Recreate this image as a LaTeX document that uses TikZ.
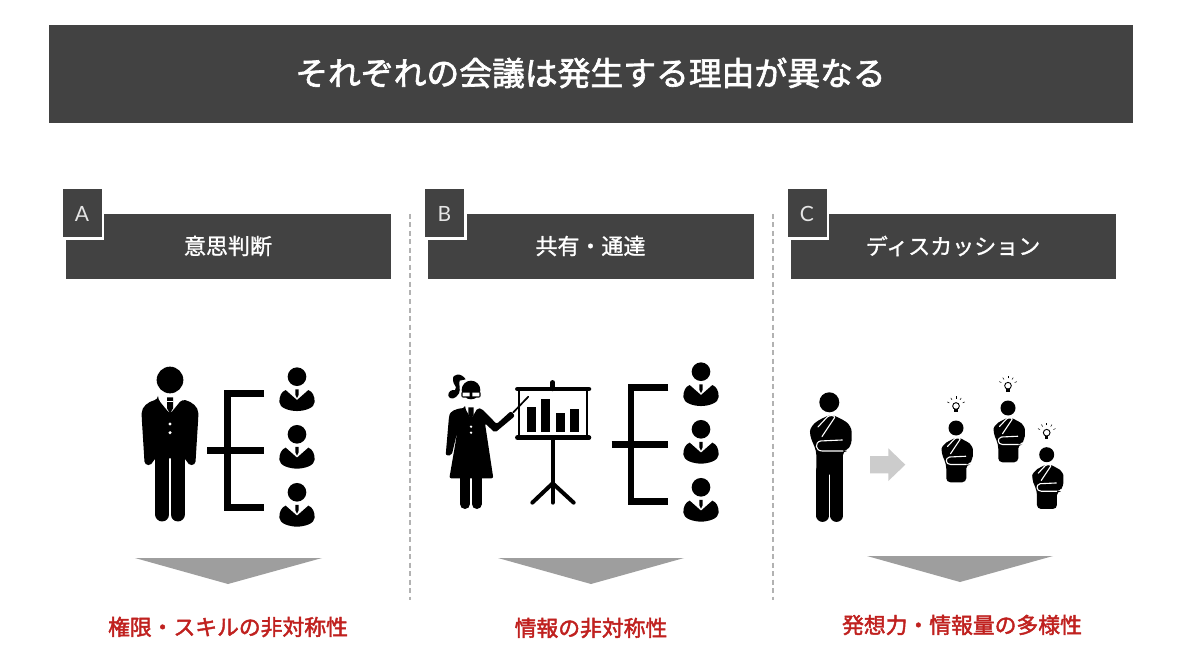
\documentclass[tikz,border=0pt]{standalone}
\usepackage{fontspec}
\newfontfamily\cjk{Noto Sans CJK JP}
\newfontfamily\cjkmid[FakeBold=1.2]{Noto Sans CJK JP}
\newfontfamily\cjkheavy[FakeBold=2]{Noto Sans CJK JP}
\newfontfamily\tagfont{Lato}
\definecolor{barcol}{HTML}{424242}
\definecolor{redcol}{HTML}{C0211F}
\begin{document}
\begin{tikzpicture}[x=1pt, y=-1pt,
		titletext/.style={text=white, font=\cjkheavy\fontsize{32.8}{36}\selectfont},
		headtext/.style={text=white, font=\cjkmid\fontsize{22}{26}\selectfont},
		tagtext/.style={text=white!90!black, font=\tagfont\fontsize{21}{24}\selectfont},
		redtext/.style={text=redcol, font=\cjkheavy\fontsize{21.8}{26}\selectfont},
		divider/.style={black!30, line width=1.2pt, dash pattern=on 5pt off 3.5pt},
		downtri/.style={fill=black!38},
		legline/.style={line width=14.3pt, line cap=round},
		% ICONS, DRAWN IN 3X COORDINATES ROUND THE HEAD
		pics/bust/.style={code={
			\fill (0,0) circle (28);
			\fill (-34,40) -- (0,70) -- (34,40) .. controls (47,45) and (53,58) .. (53,76) .. controls (53,94) and (22,103) .. (0,103) .. controls (-22,103) and (-53,94) .. (-53,76) .. controls (-53,58) and (-47,45) .. (-34,40) -- cycle;
			\fill (-5,38) -- (5,38) -- (5,54) -- (0,64) -- (-5,54) -- cycle;
		}},
		pics/suit/.style={code={
			\fill (0,0) circle (40);
			\fill[rounded corners=3.5pt] (-36,58) -- (0,102) -- (36,58) .. controls (65,65) and (85,80) .. (85,110) -- (76,255) -- (54,255) -- (48,235) -- (-48,235) -- (-54,255) -- (-76,255) -- (-85,110) .. controls (-85,80) and (-65,65) .. (-36,58) -- cycle;
			\fill (-9,52) -- (9,52) -- (9,85) -- (0,100) -- (-9,85) -- cycle;
			\draw[white, line width=1pt] (-9,63) -- (9,63);
			\fill[white] (0,132) circle (5) (0,158) circle (5);
			\draw[legline] (-23,230) -- (-23,403);
			\draw[legline] (23,230) -- (23,403);
		}},
		pics/thinkertop/.style={code={
			\fill (0,0) circle (30);
			\fill[rounded corners=4pt] (6,36) -- (40,52) .. controls (60,65) and (67,80) .. (67,100) -- (67,125) -- (52,146) -- (41,146) -- (41,217) -- (-39,217) -- (-39,146) -- (-48,125) -- (-58,100) .. controls (-58,80) and (-50,65) .. (-25,50) -- cycle;
			\draw[white, line width=1.1pt, line join=round, line cap=round] (-34,74) -- (-6,44) .. controls (0,38) and (18,38) .. (16,46) -- (-22,103);
			\draw[white, line width=1.1pt, line join=round] (40,113) -- (-26,116) .. controls (-45,120) and (-42,146) .. (-22,146) -- (42,146);
		}},
		pics/thinkerlegs/.style={code={
			\draw[line width=12.6pt, line cap=round] (-20,205) -- (-20,340);
			\draw[line width=12.6pt, line cap=round] (22,205) -- (22,340);
		}},
		pics/bulb/.style={code={
			\draw[line width=0.9pt, fill=white] (0,0) circle (10);
			\fill (-5,9) rectangle (5,19);
			\foreach \a in {205,237,270,303,335} {
				\draw[line width=0.5pt] (\a:22) -- (\a:29);
			}
		}},
	]
	\useasboundingbox (0,0) rectangle (1200,671);
	\fill[white] (0,0) rectangle (1200,671);

	% Title
	\fill[barcol] (49,25) rectangle (1133,123);
	\node[titletext] (title) at (590.5,73) {それぞれの会議は発生する理由が異なる};

	% Three headers
	\foreach \x/\l/\t in {65.5/A/意思判断, 428/B/共有・通達, 790.5/C/ディスカッション} {
		\fill[barcol] (\x,214) rectangle (\x+325.5,279);
		\fill[barcol, draw=white, line width=2.5pt] (\x-4,188) rectangle (\x+37.5,238.5);
		\node[tagtext] at (\x+16.5,214) {\l};
		\node[headtext] at (\x+162.5,246) {\t};
	}

	% Dividers
	\draw[divider] (410,214) -- (410,600);
	\draw[divider] (773,214) -- (773,600);

	% Triangles
	\fill[downtri] (135,558) -- (322,558) -- (228,584) -- cycle;
	\fill[downtri] (498,558) -- (684,558) -- (591,584) -- cycle;
	\fill[downtri] (867,556) -- (1053,556) -- (960,582) -- cycle;

	% Result labels
	\node[redtext] (resa) at (228,627) {権限・スキルの非対称性};
	\node[redtext] (resb) at (591,628) {情報の非対称性};
	\node[redtext] (resc) at (962,625) {発想力・情報量の多様性};

	% A: boss and three people
	\pic[scale=1/3] at (170,380) {suit};
	\foreach \y in {376.7, 434.3, 492.3} {
		\pic[scale=1/3] at (297,\y) {bust};
	}
	\draw[line width=6.7pt] (264,393.3) -- (227.5,393.3) -- (227.5,507.3) -- (264,507.3);
	\draw[line width=6.7pt] (207,450.3) -- (264,450.3);

	% B: presenter, chart and three people
	\begin{scope}[shift={(435,350)}, scale=1/3]
		% ponytail
		\fill (92,88) .. controls (80,68) and (50,68) .. (54,92) .. controls (56,108) and (68,108) .. (60,120) .. controls (50,118) and (38,125) .. (40,138) .. controls (45,150) and (62,148) .. (72,130) .. controls (78,118) and (70,100) .. (74,92) -- cycle;
		\fill (108,120) circle (28);
		% face and glasses
		\fill[white] (76,136) rectangle (94,152) (124,136) rectangle (140,152);
		\fill[rounded corners=2pt] (79,124) rectangle (137,143);
		\fill[white] (83,128) rectangle (104,139) (112,128) rectangle (133,139);
		% body
		\fill[rounded corners=2pt] (90,174) -- (108,208) -- (128,174) -- (140,176) -- (185,222) -- (228,183) -- (240,198) -- (180,248) -- (150,220) -- (175,385) -- (43,385) -- (68,240) -- (50,316) -- (32,316) -- (42,200) .. controls (46,185) and (60,176) .. (90,174) -- cycle;
		\fill (100,172) -- (116,172) -- (116,195) -- (108,208) -- (100,195) -- cycle;
		\fill[white] (108,230) circle (4) (108,248) circle (4);
		\draw[line width=10pt, line cap=round] (90,385) -- (90,462);
		\draw[line width=10pt, line cap=round] (125,385) -- (125,462);
		\draw[line width=1.7pt, line cap=round] (235,187) -- (280,140);
		% chart
		\draw[line width=4.5pt, line cap=round] (247,117) -- (462,117);
		\draw[line width=4.5pt, line cap=round] (247,263) -- (462,263);
		\draw[line width=4.5pt, line cap=round] (353,97) -- (353,117);
		\draw[line width=1.7pt] (252,117) -- (252,263);
		\draw[line width=1.7pt] (457,117) -- (457,263);
		\foreach \x/\y in {275/172, 318/148, 362/190, 405/178} {
			\fill (\x,\y) rectangle (\x+28,245);
		}
		\draw[line width=4pt, line cap=round] (353,263) -- (353,458);
		\draw[line width=4pt, line cap=round] (292,458) -- (353,400) -- (416,458);
	\end{scope}
	\foreach \y in {371.7, 429.3, 487.3} {
		\pic[scale=1/3] at (701,\y) {bust};
	}
	\draw[line width=6.7pt] (668.3,387.7) -- (631,387.7) -- (631,501.7) -- (668.3,501.7);
	\draw[line width=6.7pt] (611.7,444.7) -- (668.3,444.7);

	% C: one person, arrow, three people with ideas
	\pic[scale=1/3] at (829.3,402.3) {thinkerlegs};
	\pic[scale=1/3] at (829.3,402.3) {thinkertop};
	\fill[black!20] (870,456) -- (888.3,456) -- (888.3,448.3) -- (905.3,464.7) -- (888.3,481) -- (888.3,473.3) -- (870,473.3) -- cycle;
	\foreach \x/\y/\b in {956/428/406, 1008/408/385.7, 1046.7/454.7/432.7} {
		\pic[scale=1/4] at (\x,\y) {thinkertop};
		\pic[scale=1/3] at (\x,\b) {bulb};
	}
\end{tikzpicture}
\end{document}
